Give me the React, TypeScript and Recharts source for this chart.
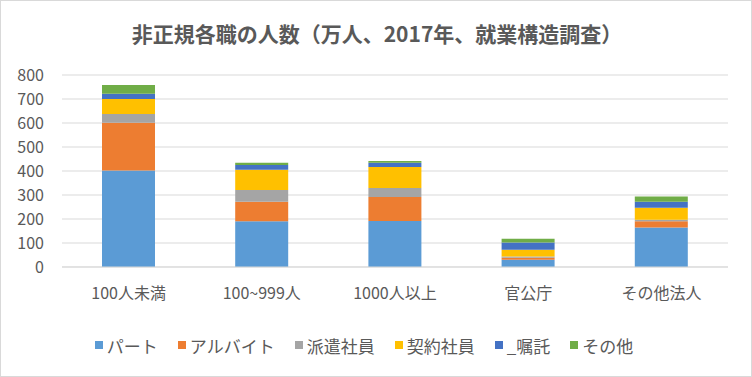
import React from 'react';
import { BarChart, Bar, XAxis, YAxis, CartesianGrid, Legend } from 'recharts';

// 非正規の雇用形態別人数（万人）
const categories = ['100人未満', '100~999人', '1000人以上', '官公庁', 'その他法人'];
const part = [402, 191, 192, 30, 165];
const arbeit = [199, 81, 100, 9, 26];
const haken = [37, 49, 37, 5, 6];
const keiyaku = [62, 84, 88, 28, 50];
const shokutaku = [22, 20, 17, 30, 25];
const other = [36, 9, 8, 16, 22];
const yTicks = [0, 100, 200, 300, 400, 500, 600, 700, 800];

const series = [
    { key: 'part', name: 'パート', color: '#5B9BD5', values: part },
    { key: 'arbeit', name: 'アルバイト', color: '#ED7D31', values: arbeit },
    { key: 'haken', name: '派遣社員', color: '#A5A5A5', values: haken },
    { key: 'keiyaku', name: '契約社員', color: '#FFC000', values: keiyaku },
    { key: 'shokutaku', name: '_嘱託', color: '#4472C4', values: shokutaku },
    { key: 'other', name: 'その他', color: '#70AD47', values: other },
];

const data = categories.map((name, i) => {
    const row: any = { name };
    series.forEach(s => { row[s.key] = s.values[i]; });
    return row;
});

const FONT = '"Noto Sans CJK JP", "Noto Sans", sans-serif';
const TEXT = '#595959';

const renderLegend = () => (
    <div style={{ display: 'flex', justifyContent: 'center', alignItems: 'center', height: 24, gap: 20, fontFamily: FONT, fontSize: 17, color: TEXT }}>
        {series.map(s => (
            <div key={s.key} style={{ display: 'flex', alignItems: 'center' }}>
                <span style={{ width: 8, height: 8, background: s.color, marginRight: 4, display: 'inline-block' }} />
                <span>{s.name}</span>
            </div>
        ))}
    </div>
);

const App: React.FC = () => {
    return (
        <div style={{ position: 'absolute', left: 0, top: 0, width: 752, height: 377, boxSizing: 'border-box', border: '1px solid #d9d9d9', background: '#fff' }}>
            <div style={{ position: 'absolute', top: 19, left: 0, width: 752, textAlign: 'center', fontFamily: FONT, fontWeight: 'bold', fontSize: 21, lineHeight: '26px', color: TEXT }}>
                非正規各職の人数（万人、2017年、就業構造調査）
            </div>
            <div style={{ position: 'absolute', left: -1, top: -1 }}>
                <BarChart width={752} height={377} data={data} margin={{ top: 75, right: 24, left: 0, bottom: 20 }} barSize={53}>
                    <CartesianGrid vertical={false} stroke="#d9d9d9" />
                    <XAxis
                        dataKey="name"
                        height={66}
                        tickLine={false}
                        tickMargin={15}
                        axisLine={{ stroke: '#d9d9d9' }}
                        tick={{ fill: TEXT, fontSize: 16, fontFamily: FONT }}
                        interval={0}
                    />
                    <YAxis
                        width={62}
                        domain={[0, 800]}
                        ticks={yTicks}
                        axisLine={false}
                        tickLine={false}
                        tickMargin={12}
                        tick={{ fill: TEXT, fontSize: 16, fontFamily: FONT }}
                    />
                    <Legend verticalAlign="bottom" content={renderLegend} />
                    {series.map(s => (
                        <Bar key={s.key} dataKey={s.key} name={s.name} stackId="a" fill={s.color} isAnimationActive={false} />
                    ))}
                </BarChart>
            </div>
        </div>
    );
};

export default App;
